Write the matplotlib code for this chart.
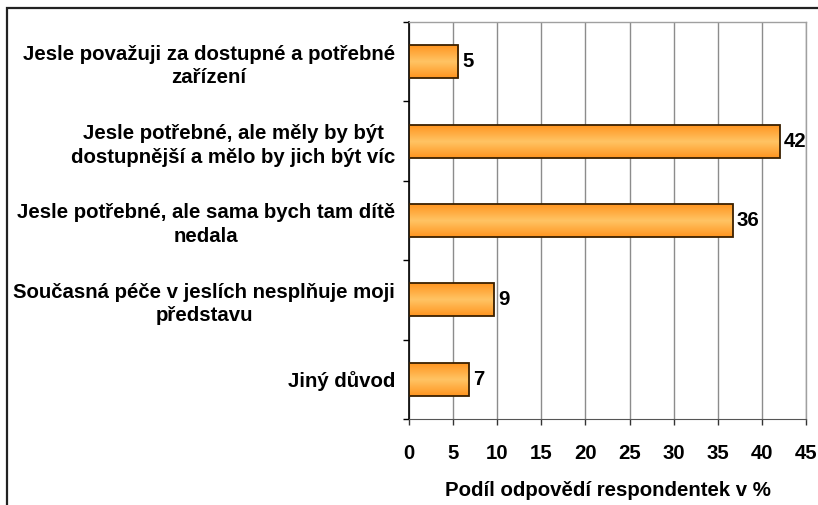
import numpy as np
import matplotlib
matplotlib.use("Agg")
import matplotlib.pyplot as plt
from matplotlib.patches import Rectangle
from matplotlib.colors import LinearSegmentedColormap

categories = [
    "Jesle považuji za dostupné a potřebné\nzařízení",
    "Jesle potřebné, ale měly by být\ndostupnější a mělo by jich být víc",
    "Jesle potřebné, ale sama bych tam dítě\nnedala",
    "Současná péče v jeslích nesplňuje moji\npředstavu",
    "Jiný důvod",
]
values = [5.6, 42.0, 36.7, 9.6, 6.8]
value_labels = ["5", "42", "36", "9", "7"]
x_ticks = [0, 5, 10, 15, 20, 25, 30, 35, 40, 45]
x_label = "Podíl odpovědí respondentek v %"

plt.rcParams['font.family'] = ['Liberation Sans', 'DejaVu Sans']
plt.rcParams['font.weight'] = 'bold'
FS = 14.7

fig = plt.figure(figsize=(8.18, 5.05), dpi=100)
ax = fig.add_axes([409/818, 1-419/505, (806-409)/818, (419-22)/505])

n = len(categories)
ypos = np.arange(n)
bars = ax.barh(ypos, values, height=0.415, facecolor='none',
               edgecolor='#3a2000', linewidth=1.3, zorder=3)

cmap = LinearSegmentedColormap.from_list(
    'og', ['#ff9520', '#ffc464', '#ff9520'])
grad = np.linspace(0, 1, 128).reshape(-1, 1)
for b in bars:
    x0, y0 = b.get_x(), b.get_y()
    w, h = b.get_width(), b.get_height()
    im = ax.imshow(grad, cmap=cmap, aspect='auto',
                   extent=(x0, x0 + w, y0 + h, y0), zorder=2,
                   interpolation='bilinear')
    im.set_clip_path(b)

for yy, v, lab in zip(ypos, values, value_labels):
    ax.annotate(lab, (v, yy), xytext=(3, 0), textcoords='offset points',
                ha='left', va='center', fontsize=FS, fontweight='bold')

ax.set_xlim(0, 45)
ax.set_ylim(n - 0.5, -0.5)
ax.set_xticks(x_ticks)
ax.set_xticklabels([str(t) for t in x_ticks], fontsize=FS, fontweight='bold')
ax.set_yticks(ypos)
ax.set_yticklabels(categories, fontsize=FS, fontweight='bold')
for t in ax.get_yticklabels():
    t.set_multialignment('center')
    t.set_linespacing(1.3)
ax.set_yticks(np.arange(-0.5, n, 1.0), minor=True)
ax.tick_params(axis='y', which='major', length=0, pad=10)
ax.tick_params(axis='y', which='minor', length=4, color='black', width=1)
ax.tick_params(axis='x', length=4, color='#333333', width=1, pad=14)

ax.xaxis.grid(True, color='#8c8c8c', linewidth=1, zorder=1)
ax.set_axisbelow(True)
for s in ['top', 'right']:
    ax.spines[s].set_color('#a0a0a0')
    ax.spines[s].set_linewidth(1)
ax.spines['bottom'].set_color('#555555')
ax.spines['left'].set_color('black')
ax.spines['left'].set_linewidth(1.2)

ax.set_xlabel(x_label, fontsize=FS, fontweight='bold', labelpad=13)

fig.patches.append(Rectangle((7/818, -0.2), 1.2, 0.2 + (1 - 8/505),
                             transform=fig.transFigure, fill=False,
                             edgecolor='#222222', linewidth=1.6))

fig.savefig('out.png', dpi=100)
